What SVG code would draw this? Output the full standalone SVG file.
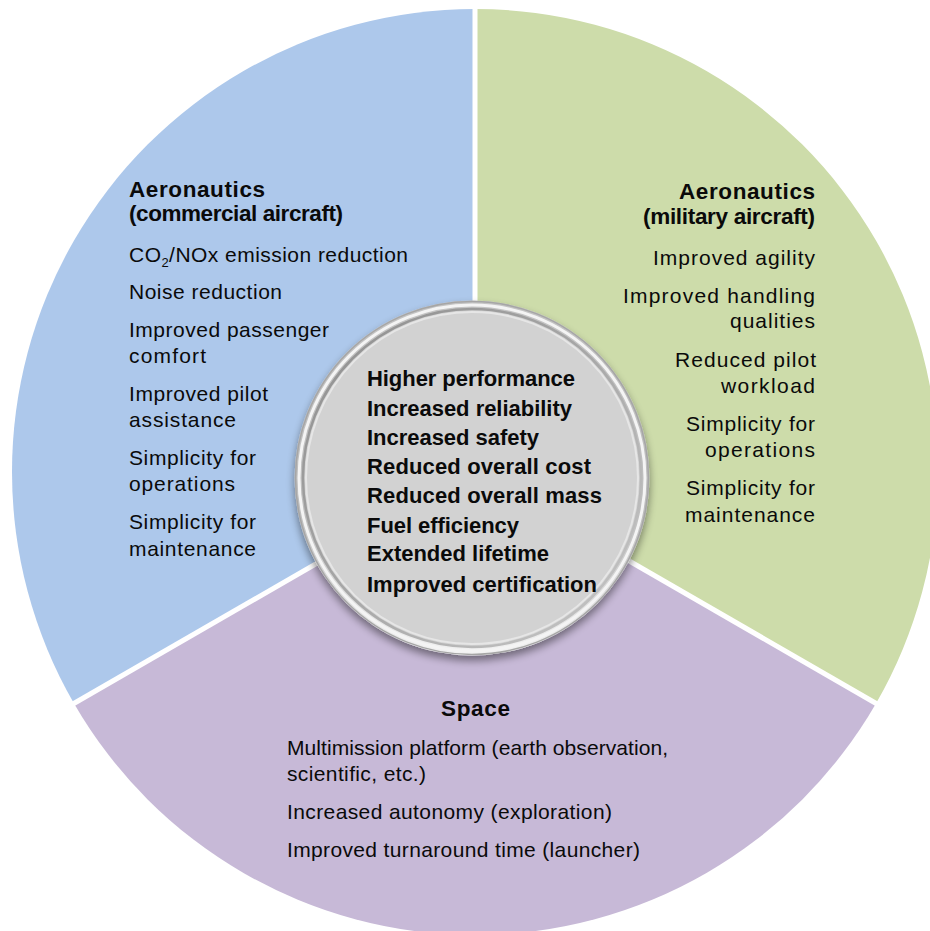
<svg xmlns="http://www.w3.org/2000/svg" width="930" height="931" viewBox="0 0 930 931">
<style>
text{font-family:"Liberation Sans",Arial,sans-serif;fill:#0a0a0a;}
.h{font-size:22.5px;font-weight:bold;}
.t{font-size:21px;}
.c{font-size:22px;font-weight:bold;}
.div{stroke:#fff;stroke-width:5;stroke-linecap:butt;}
</style>
<defs>
<filter id="sh" x="-20%" y="-20%" width="140%" height="140%">
<feGaussianBlur in="SourceAlpha" stdDeviation="4"/>
<feOffset dx="0" dy="5" result="b"/>
<feComponentTransfer><feFuncA type="linear" slope="0.45"/></feComponentTransfer>
<feMerge><feMergeNode/><feMergeNode in="SourceGraphic"/></feMerge>
</filter>
<linearGradient id="rimOuter" x1="0" y1="0" x2="0" y2="1">
<stop offset="0" stop-color="#c4c4c4"/>
<stop offset="0.6" stop-color="#bdbdbd"/>
<stop offset="1" stop-color="#f2f2f2"/>
</linearGradient>
<linearGradient id="rimGroove" x1="0" y1="0" x2="1" y2="1">
<stop offset="0" stop-color="#8e8e8e"/>
<stop offset="0.5" stop-color="#a8a8a8"/>
<stop offset="1" stop-color="#c8c8c8"/>
</linearGradient>
</defs>

<g id="commercial">
<path d="M475,472 L475,9 A463,463 0 0 0 74.03,703.5 Z" fill="#adc8eb"/>
<text class="h" x="129" y="197" textLength="136">Aeronautics</text>
<text class="h" x="129" y="221" textLength="214">(commercial aircraft)</text>
<text class="t" x="129" y="262" textLength="279">CO<tspan font-size="13" dy="5">2</tspan><tspan dy="-5">/NOx emission reduction</tspan></text>
<text class="t" x="129" y="299" textLength="153">Noise reduction</text>
<text class="t" x="129" y="337" textLength="200">Improved passenger</text>
<text class="t" x="129" y="363" textLength="77">comfort</text>
<text class="t" x="129" y="401" textLength="139">Improved pilot</text>
<text class="t" x="129" y="427" textLength="107">assistance</text>
<text class="t" x="129" y="465" textLength="127">Simplicity for</text>
<text class="t" x="129" y="491" textLength="106">operations</text>
<text class="t" x="129" y="529" textLength="127">Simplicity for</text>
<text class="t" x="129" y="556" textLength="127">maintenance</text>
</g>

<g id="military">
<path d="M475,472 L475,9 A463,463 0 0 1 875.97,703.5 Z" fill="#cddcaa"/>
<text class="h" x="679" y="199" textLength="136">Aeronautics</text>
<text class="h" x="643" y="224" textLength="172">(military aircraft)</text>
<text class="t" x="653" y="265" textLength="162">Improved agility</text>
<text class="t" x="623" y="303" textLength="192">Improved handling</text>
<text class="t" x="730" y="328" textLength="85">qualities</text>
<text class="t" x="675" y="367" textLength="141">Reduced pilot</text>
<text class="t" x="721" y="393" textLength="94">workload</text>
<text class="t" x="686" y="431" textLength="129">Simplicity for</text>
<text class="t" x="705" y="457" textLength="110">operations</text>
<text class="t" x="686" y="495" textLength="129">Simplicity for</text>
<text class="t" x="685" y="522" textLength="130">maintenance</text>
</g>

<g id="space">
<path d="M475,472 L74.03,703.5 A463,463 0 0 0 875.97,703.5 Z" fill="#c7b9d7"/>
<text class="h" x="441" y="716" textLength="69">Space</text>
<text class="t" x="287" y="755" textLength="381">Multimission platform (earth observation,</text>
<text class="t" x="287" y="781" textLength="139">scientific, etc.)</text>
<text class="t" x="287" y="819" textLength="325">Increased autonomy (exploration)</text>
<text class="t" x="287" y="857" textLength="353">Improved turnaround time (launcher)</text>
</g>

<g id="dividers">
<line class="div" x1="475" y1="472" x2="475" y2="0"/>
<line class="div" x1="475" y1="472" x2="66" y2="708"/>
<line class="div" x1="475" y1="472" x2="884" y2="708"/>
</g>

<g id="benefits">
<circle cx="472" cy="478" r="177.5" fill="url(#rimOuter)" filter="url(#sh)"/>
<circle cx="472" cy="478" r="176.5" fill="none" stroke="#a6a6a6" stroke-width="1.5"/>
<circle cx="472" cy="478" r="173" fill="none" stroke="#f4f4f4" stroke-width="3"/>
<circle cx="472" cy="478" r="169" fill="#d2d2d2" stroke="url(#rimGroove)" stroke-width="2.5"/>
<circle cx="472" cy="478" r="166" fill="none" stroke="#e6e6e6" stroke-width="2"/>
<text class="c" x="367" y="386" textLength="208">Higher performance</text>
<text class="c" x="367" y="416" textLength="205">Increased reliability</text>
<text class="c" x="367" y="445" textLength="172">Increased safety</text>
<text class="c" x="367" y="474" textLength="224">Reduced overall cost</text>
<text class="c" x="367" y="503" textLength="235">Reduced overall mass</text>
<text class="c" x="367" y="533" textLength="152">Fuel efficiency</text>
<text class="c" x="367" y="561" textLength="182">Extended lifetime</text>
<text class="c" x="367" y="592" textLength="230">Improved certification</text>
</g>
</svg>
